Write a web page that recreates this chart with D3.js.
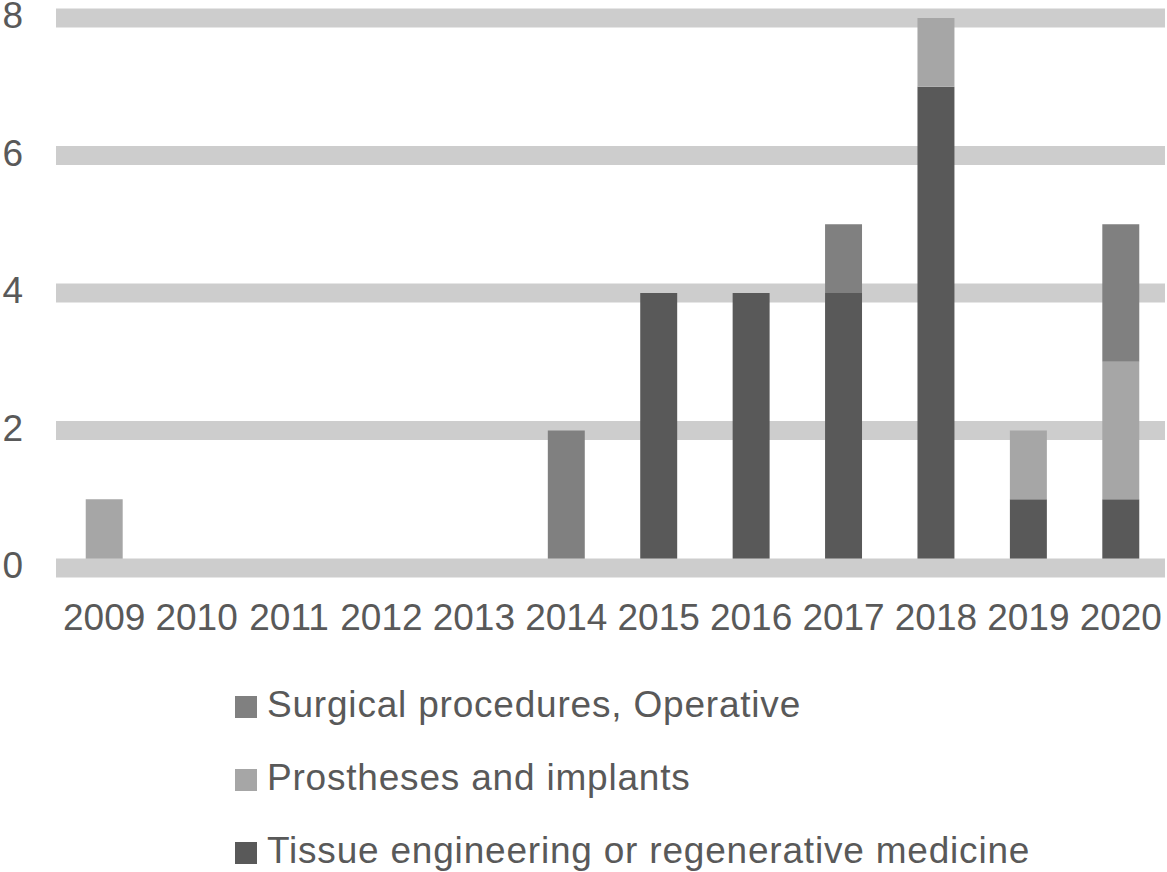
<!DOCTYPE html>
<html>
<head>
<meta charset="utf-8">
<script src="https://cdn.jsdelivr.net/npm/d3@7"></script>
<style>
  body { margin: 0; background: #fff; }
  text { font-family: "Liberation Sans", Arial, sans-serif; fill: #595959; }
</style>
</head>
<body>
<div id="container"></div>
<script>
// data
const years = ["2009", "2010", "2011", "2012", "2013", "2014", "2015", "2016", "2017", "2018", "2019", "2020"]
const tissue = [0, 0, 0, 0, 0, 0, 4, 4, 4, 7, 1, 1]
const prostheses = [1, 0, 0, 0, 0, 0, 0, 0, 0, 1, 1, 2]
const surgical = [0, 0, 0, 0, 0, 2, 0, 0, 1, 0, 0, 2]
const yTicks = [0, 2, 4, 6, 8]
const seriesNames = ["Tissue engineering or regenerative medicine", "Prostheses and implants", "Surgical procedures, Operative"]
const legendOrder = ["Surgical procedures, Operative", "Prostheses and implants", "Tissue engineering or regenerative medicine"]

const w = 1167
const h = 872
const m = { top: 18, left: 58, right: 0 }
const colors = d3.scaleOrdinal()
    .domain(seriesNames)
    .range(["#595959", "#a6a6a6", "#808080"])

const rows = years.map((yr, i) => ({
    year: yr,
    [seriesNames[0]]: tissue[i],
    [seriesNames[1]]: prostheses[i],
    [seriesNames[2]]: surgical[i],
}))
const stacked = d3.stack().keys(seriesNames)(rows)

const xScale = d3.scaleBand()
    .domain(years)
    .range([m.left, w - m.right])
    .paddingInner(0.6)
    .paddingOuter(0.3)

const yScale = d3.scaleLinear()
    .domain([0, 8])
    .range([568, m.top])

const svg = d3.select("#container")
    .append("svg")
    .attr("width", w)
    .attr("height", h)

// grid bands
svg.append("g")
    .selectAll("rect")
    .data(yTicks.filter(d => d > 0))
    .join("rect")
    .attr("x", 56)
    .attr("width", 1165 - 56)
    .attr("y", d => yScale(d) - 9.5)
    .attr("height", 19)
    .attr("fill", "#cdcdcd")

// bars
svg.append("g")
    .selectAll("g")
    .data(stacked)
    .join("g")
    .attr("fill", d => colors(d.key))
    .selectAll("rect")
    .data(d => d)
    .join("rect")
    .attr("x", d => xScale(d.data.year))
    .attr("width", xScale.bandwidth())
    .attr("y", d => yScale(d[1]))
    .attr("height", d => yScale(d[0]) - yScale(d[1]))

// zero line on top
svg.append("rect")
    .attr("x", 56)
    .attr("width", 1165 - 56)
    .attr("y", yScale(0) - 9.5)
    .attr("height", 19)
    .attr("fill", "#cdcdcd")

// y labels
svg.append("g")
    .selectAll("text")
    .data(yTicks)
    .join("text")
    .attr("x", 23)
    .attr("y", d => yScale(d) + 10)
    .attr("text-anchor", "end")
    .style("font-size", "37px")
    .text(d => d)

// x labels
svg.append("g")
    .selectAll("text")
    .data(years)
    .join("text")
    .attr("x", d => xScale(d) + xScale.bandwidth() / 2)
    .attr("y", 630)
    .attr("text-anchor", "middle")
    .style("font-size", "37px")
    .text(d => d)

// legend
const legend = svg.append("g")
    .selectAll("g")
    .data(legendOrder)
    .join("g")
    .attr("transform", (d, i) => `translate(235, ${717 + i * 73})`)

legend.append("rect")
    .attr("x", 0)
    .attr("y", -21)
    .attr("width", 22)
    .attr("height", 22)
    .attr("fill", d => colors(d))

legend.append("text")
    .attr("x", 32)
    .attr("y", 0)
    .style("font-size", "37px")
    .style("letter-spacing", "0.8px")
    .text(d => d)
</script>
</body>
</html>
